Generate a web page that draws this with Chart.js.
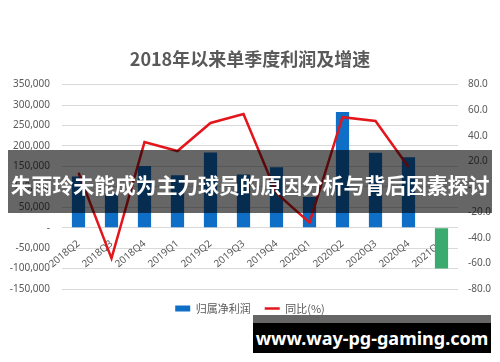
<!DOCTYPE html>
<html>
<head>
  <title>2018年以来单季度利润及增速</title>
  <script src="https://cdn.jsdelivr.net/npm/chart.js"></script>
  <style>
    body { margin: 0; background: #fff; }
    #wrap { position: relative; width: 500px; height: 362px; }
    #banner {
      position: absolute; left: 8px; top: 150px; width: 484px; height: 63px;
      background: rgba(0, 0, 0, 0.6); color: #fff;
      font: bold 21px "Noto Sans CJK SC", sans-serif;
      line-height: 68px; text-align: center; white-space: nowrap; letter-spacing: -0.2px;
    }
    #mark {
      position: absolute; left: 253px; top: 315px; width: 238px; height: 38px;
      background: #000; border-top: 8px solid #666; box-sizing: border-box; color: #fff;
      font: bold 18px "Noto Sans", sans-serif; line-height: 30px; text-align: center;
    }
  </style>
</head>
<body>
  <div id="wrap">
    <canvas id="profitChart" width="500" height="362"></canvas>
    <div id="banner">朱雨玲未能成为主力球员的原因分析与背后因素探讨</div>
    <div id="mark">www.way-pg-gaming.com</div>
  </div>

  <script>
    // quarters on the category axis
    const quarters = ['2018Q2', '2018Q3', '2018Q4', '2019Q1', '2019Q2', '2019Q3',
                      '2019Q4', '2020Q1', '2020Q2', '2020Q3', '2020Q4', '2021Q1'];
    // 归属净利润 (left axis)
    const netProfit = [125000, 85000, 151000, 128000, 184000, 130000,
                       148000, 75000, 283000, 183000, 172000, -100000];
    // 同比(%) (right axis), no value for 2021Q1
    const yoyPct = [11, -56, 35, 28, 50, 57, -5, -28, 54.5, 51.5, 15.5, null];

    const leftTicks = [350000, 300000, 250000, 200000, 150000, 100000, 50000, 0, -50000, -100000, -150000];
    const rightTicks = [80, 60, 40, 20, 0, -20, -40, -60, -80];

    const gray = '#595959';
    const font = '"Noto Sans", "Noto Sans CJK SC", sans-serif';

    const ctx = document.getElementById('profitChart').getContext('2d');
    new Chart(ctx, {
      data: {
        labels: quarters,
        datasets: [
          {
            type: 'line',
            label: '同比(%)',
            data: yoyPct,
            yAxisID: 'y1',
            borderColor: '#E3161C',
            backgroundColor: '#E3161C',
            borderWidth: 2.5,
            pointRadius: 0,
            tension: 0,
            order: 0
          },
          {
            type: 'bar',
            label: '归属净利润',
            data: netProfit,
            yAxisID: 'y',
            backgroundColor: c => (c.raw < 0 ? '#3AAA6E' : '#0F6FC6'),
            categoryPercentage: 0.5,
            barPercentage: 0.8,
            order: 1
          }
        ]
      },
      options: {
        responsive: false,
        animation: false,
        layout: { padding: { left: 0, right: 0, top: 0, bottom: 38 } },
        plugins: {
          title: {
            display: true,
            text: '2018年以来单季度利润及增速',
            color: gray,
            font: { family: '"Noto Sans CJK SC", sans-serif', size: 18, weight: 'bold' },
            padding: { top: 48, bottom: 15 }
          },
          legend: {
            position: 'bottom',
            reverse: true,
            labels: {
              color: gray,
              font: { family: '"Noto Sans CJK SC", sans-serif', size: 11 },
              usePointStyle: true,
              pointStyleWidth: 15,
              boxHeight: 6,
              padding: 14,
              generateLabels: chart => {
                const items = Chart.defaults.plugins.legend.labels.generateLabels(chart);
                items.forEach(it => {
                  it.pointStyle = it.datasetIndex === 0 ? 'line' : 'rect';
                  if (it.datasetIndex === 1) { it.fillStyle = '#0F6FC6'; it.strokeStyle = '#0F6FC6'; it.lineWidth = 0; }
                });
                return items;
              }
            }
          },
          tooltip: { enabled: false }
        },
        scales: {
          x: {
            position: { y: 0 },
            grid: { display: false },
            border: { display: false },
            ticks: {
              color: gray,
              font: { family: font, size: 10 },
              minRotation: 40,
              maxRotation: 40,
              padding: 2
            },
            afterFit: s => { s.height = 0; }
          },
          y: {
            position: 'left',
            min: -150000,
            max: 350000,
            afterBuildTicks: s => { s.ticks = leftTicks.map(v => ({ value: v })); },
            afterFit: s => { s.width = 62; },
            grid: { color: '#D9D9D9', lineWidth: 1, drawTicks: false },
            border: { display: false },
            ticks: {
              color: gray,
              font: { family: font, size: 10 },
              padding: 12,
              callback: v => (v === 0 ? '-' : v.toLocaleString('en-US'))
            }
          },
          y1: {
            position: 'right',
            min: -80,
            max: 80,
            afterBuildTicks: s => { s.ticks = rightTicks.map(v => ({ value: v })); },
            afterFit: s => { s.width = 42; },
            grid: { display: false, drawTicks: false },
            border: { display: false },
            ticks: {
              color: gray,
              font: { family: font, size: 10 },
              padding: 10,
              callback: v => (v === 0 ? '-' : v.toFixed(1))
            }
          }
        }
      }
    });
  </script>
</body>
</html>
